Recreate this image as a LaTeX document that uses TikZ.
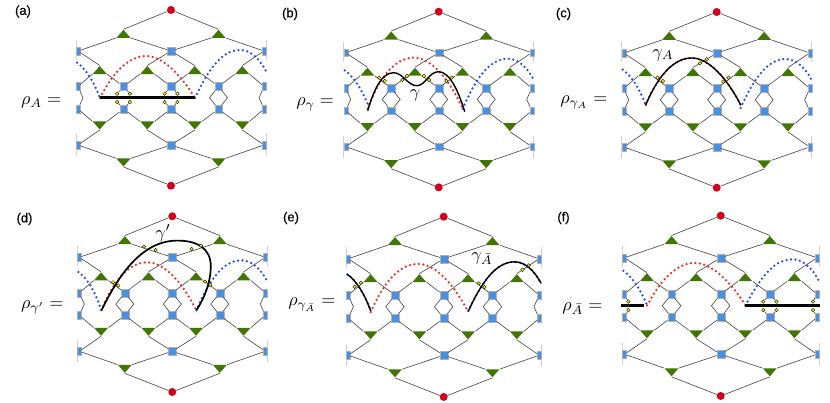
\documentclass[tikz,border=0pt]{standalone}
\usepackage{fontspec}
\newfontfamily\labfont[FakeBold=0.25]{Liberation Sans}
\usetikzlibrary{shapes.geometric}
\definecolor{sqblue}{HTML}{4A90E2}
\definecolor{trigreen}{HTML}{417505}
\definecolor{dotred}{HTML}{D0021B}
\definecolor{archblue}{HTML}{1F45FC}
\definecolor{archred}{HTML}{F0281E}
\tikzset{
  wire/.style={draw=black!70,line width=0.65pt},
  sqnode/.style={rectangle,fill=sqblue,draw=black!30,line width=0.2pt,minimum size=7.8pt,inner sep=0pt},
  halfsq/.style={rectangle,fill=sqblue,draw=black!30,line width=0.2pt,minimum width=4pt,minimum height=7.8pt,inner sep=0pt},
  upnode/.style={isosceles triangle,isosceles triangle stretches,shape border rotate=90,anchor=apex,fill=trigreen,minimum width=14pt,minimum height=8pt,inner sep=0pt},
  downnode/.style={isosceles triangle,isosceles triangle stretches,shape border rotate=-90,anchor=apex,fill=trigreen,minimum width=14pt,minimum height=8pt,inner sep=0pt},
  rednode/.style={circle,fill=dotred,minimum size=8pt,inner sep=0pt},
  yelnode/.style={circle,fill=yellow,draw=black,line width=0.35pt,minimum size=3.6pt,inner sep=0pt},
  reddots/.style={draw=archred,line width=2.5pt,line cap=round,dash pattern=on 0pt off 4.5pt},
  bluedots/.style={draw=archblue,line width=2.5pt,line cap=round,dash pattern=on 0pt off 4.5pt},
  cutline/.style={draw=black,line width=2.1pt},
  border/.style={draw=black!18,line width=0.5pt},
  mathlab/.style={anchor=base west,scale=1.8,inner sep=0pt},
  panellab/.style={anchor=center,font=\labfont\fontsize{13}{15}\selectfont,inner sep=0pt},
}
\newcommand\redpath[1]{(-71,#1) .. controls (-58,62) and (-42,46) .. (-25,46) .. controls (-10,46) and (8,62) .. (24,#1)}
\newcommand\bluepathR[2]{(24,#1) .. controls (36,62+#2) and (50,40+#2) .. (69,40+#2) .. controls (79,40+#2) and (88,48+#2) .. (95,61+#2)}
\newcommand\bluepathL[2]{(-94,52.7+#2) .. controls (-86,58+#2) and (-78,70+#2) .. (-71,#1)}
% full bubble between rows 2 and 3
\newcommand\bub[2]{%
  \coordinate (\P ml#1) at (#2-9,87.75);
  \coordinate (\P mr#1) at (#2+9,87.75);
  \draw[wire] (\P s2#1) -- (\P ml#1) -- (\P s3#1) (\P s2#1) -- (\P mr#1) -- (\P s3#1);}
\newcommand\bubL{%
  \coordinate (\P mr1) at (-88,87.75);
  \draw[wire] (\P s21) -- (\P mr1) -- (\P s31);}
\newcommand\bubR{%
  \coordinate (\P ml5) at (88,87.75);
  \draw[wire] (\P s25) -- (\P ml5) -- (\P s35);}
% cut bubble
\newcommand\cutside[3]{% index, side tag, x
  \node[yelnode] (\P yu#1#2) at (#3,83.7) {};
  \node[yelnode] (\P yd#1#2) at (#3,92) {};
  \draw[wire] (\P s2#1) -- (\P yu#1#2) (\P s3#1) -- (\P yd#1#2);}
\newcommand\cutb[2]{\cutside{#1}{l}{#2-6.4}\cutside{#1}{r}{#2+6.4}}
\newcommand\yel[3]{\node[yelnode] (\P #1) at (#2,#3) {};}
% one panel: name, cx, top y, xscale, yscale, overlay
\newcommand\panel[6]{%
\begin{scope}[shift={(#2,#3)},xscale=#4,yscale=#5]
  \def\P{#1}
  \draw[border] (-95,30) -- (-95,50) (95,30) -- (95,50) (-95,124) -- (-95,146) (95,124) -- (95,146);
  \node[rednode] (#1t) at (0,0) {};
  \node[rednode] (#1b) at (0,175.7) {};
  \node[upnode] (#1a1) at (-47.5,19.3) {};
  \node[upnode] (#1a2) at (47.5,19.3) {};
  \node[downnode] (#1e1) at (-47.5,157) {};
  \node[downnode] (#1e2) at (47.5,157) {};
  \foreach \i/\x in {1/-71.25,2/-23.75,3/23.75,4/71.25}{
    \node[upnode] (#1c\i) at (\x,55.5) {};
    \node[downnode] (#1d\i) at (\x,120) {};
  }
  \foreach \i/\x in {2/-47.5,3/0,4/47.5}{
    \node[sqnode] (#1s2\i) at (\x,76.5) {};
    \node[sqnode] (#1s3\i) at (\x,99) {};
  }
  \node[sqnode] (#1s13) at (0,41) {};
  \node[sqnode] (#1s43) at (0,135) {};
  \foreach \r/\y in {1/41,2/76.5,3/99,4/135}{
    \node[halfsq] (#1s\r1) at (-93,\y) {};
    \node[halfsq] (#1s\r5) at (93,\y) {};
  }
  \foreach \u/\v in {t/a1.apex,t/a2.apex,a1.left corner/s11,a1.right corner/s13,a2.left corner/s13,a2.right corner/s15,
    s11/c1.apex,s13/c2.apex,s13/c3.apex,s15/c4.apex,
    c1.left corner/s21,c1.right corner/s22,c2.left corner/s22,c2.right corner/s23,
    c3.left corner/s23,c3.right corner/s24,c4.left corner/s24,c4.right corner/s25,
    s31/d1.right corner,s32/d1.left corner,s32/d2.right corner,s33/d2.left corner,
    s33/d3.right corner,s34/d3.left corner,s34/d4.right corner,s35/d4.left corner,
    d1.apex/s41,d2.apex/s43,d3.apex/s43,d4.apex/s45,
    s41/e1.right corner,s43/e1.left corner,s43/e2.right corner,s45/e2.left corner,
    e1.apex/b,e2.apex/b}{
    \draw[wire] (#1\u) -- (#1\v);
  }
  #6
\end{scope}}
\begin{document}
\begin{tikzpicture}[x=1pt,y=-1pt]
\useasboundingbox (0,0) rectangle (830,403);
% (a)
\panel{a}{171}{10}{1}{1}{
  \bub{4}{47.5}\bubL\bubR
  \draw[reddots] \redpath{88};
  \draw[bluedots] \bluepathR{88}{0};
  \draw[bluedots] \bluepathL{88}{0};
  \coordinate (abarl) at (-71.25,87.5);
  \coordinate (abarr) at (23.75,87.5);
  \draw[cutline] (abarl) -- (abarr);
  \cutb{2}{-47.5}\cutb{3}{0}
}
% (b)
\panel{b}{438.7}{11.7}{1}{1}{
  \bub{2}{-47.5}\bub{3}{0}\bub{4}{47.5}\bubL\bubR
  \draw[reddots] \redpath{97};
  \draw[bluedots] \bluepathR{97}{7};
  \draw[bluedots] \bluepathL{92}{6};
  \draw[black,line width=1.4pt] (-71,99) .. controls (-64,75) and (-56,61) .. (-45,61) .. controls (-36,61) and (-31,74) .. (-22,74) .. controls (-13,74) and (-10,60) .. (0,60) .. controls (11,60) and (20,80) .. (26,100);
  \yel{y1}{-59.7}{66}\yel{y2}{-54}{69.3}\yel{y3}{-36.3}{68.3}\yel{y4}{-31.7}{64.3}
  \yel{y5}{-14.7}{64.3}\yel{y6}{-9.7}{68.3}\yel{y7}{7.7}{69.3}\yel{y8}{13}{66}
}
% (c)
\panel{c}{716.7}{12}{1}{1}{
  \bub{2}{-47.5}\bub{3}{0}\bub{4}{47.5}\bubL\bubR
  \draw[reddots] \redpath{93};
  \draw[bluedots] \bluepathR{96}{7};
  \draw[bluedots] \bluepathL{93}{5};
  \draw[black,line width=1.4pt] \redpath{93};
  \yel{y1}{-59.3}{65.7}\yel{y2}{-54}{69}\yel{y3}{-16.7}{51.3}\yel{y4}{-10}{47.3}
  \yel{y5}{6.7}{69.7}\yel{y6}{11.7}{65.7}
}
% (d)
\panel{d}{172.3}{216.3}{1}{1}{
  \bub{2}{-47.5}\bub{3}{0}\bub{4}{47.5}\bubL\bubR
  \draw[reddots] \redpath{94};
  \draw[bluedots] \bluepathR{94}{4};
  \draw[bluedots] \bluepathL{94}{3};
  \draw[black,line width=1.7pt] (-70.7,93.7) .. controls (-55,62) and (-32,24.3) .. (5,24.3) .. controls (25,24.3) and (38.5,32) .. (38.5,50) .. controls (38.5,65) and (33,80) .. (24.3,93.7);
  \yel{y1}{-59.3}{66}\yel{y2}{-54}{69.3}\yel{y3}{-28.3}{30.3}\yel{y4}{-16.7}{33.7}
  \yel{y5}{19.3}{32.7}\yel{y6}{28.7}{29.3}\yel{y7}{32.7}{65.3}\yel{y8}{38}{68.7}
}
% (e)
\panel{e}{443.7}{216.7}{1.026}{1.026}{
  \bub{2}{-47.5}\bub{3}{0}\bub{4}{47.5}\bubL\bubR
  \draw[reddots] \redpath{93};
  \draw[bluedots] \bluepathR{92}{4};
  \draw[bluedots] \bluepathL{92}{3.5};
  \draw[black,line width=1.4pt] \bluepathR{92}{4};
  \draw[black,line width=1.4pt] \bluepathL{92}{3.5};
  \yel{y1}{-86.8}{68.3}\yel{y2}{-80.7}{64.4}\yel{y3}{34.1}{65}\yel{y4}{39.7}{68.6}
  \yel{y5}{76.8}{51.7}\yel{y6}{82.9}{47.5}
}
% (f)
\panel{f}{720.7}{215.7}{1.035}{1.026}{
  \bub{2}{-47.5}\bub{3}{0}
  \draw[reddots] \redpath{87.5};
  \draw[bluedots] \bluepathR{87.5}{2.5};
  \draw[bluedots] \bluepathL{87.5}{1};
  \coordinate (fbarl) at (-96,87.5);
  \coordinate (fbarm) at (-74.5,87.5);
  \coordinate (fbarn) at (23.6,87.5);
  \coordinate (fbarr) at (95.8,87.5);
  \draw[cutline] (fbarl) -- (fbarm) (fbarn) -- (fbarr);
  \cutside{1}{r}{-89.2}\cutb{4}{47.5}\cutside{5}{l}{89.2}
}
% formula labels
\node[mathlab] (la) at (20.7,105) {$\rho_A =$};
\node[mathlab] (lb) at (296,106) {$\rho_\gamma =$};
\node[mathlab] (lc) at (560,103.5) {$\rho_{\gamma_A} =$};
\node[mathlab] (ld) at (20.7,308.5) {$\rho_{\gamma'} =$};
\node[mathlab] (le) at (288,306) {$\rho_{\gamma_{\bar A}} =$};
\node[mathlab] (lf) at (562,310.5) {$\rho_{\bar A} =$};
\node[scale=1.8,inner sep=0pt] (gb) at (415,95) {$\gamma$};
\node[scale=1.8,inner sep=0pt] (gc) at (663,55) {$\gamma_A$};
\node[scale=1.8,inner sep=0pt] (gd) at (163,233) {$\gamma'$};
\node[scale=1.8,inner sep=0pt] (ge) at (482,259) {$\gamma_{\bar A}$};
% panel letters
\node[panellab] (pa) at (23,11.5) {(a)};
\node[panellab] (pb) at (290,14) {(b)};
\node[panellab] (pc) at (563.5,14) {(c)};
\node[panellab] (pd) at (24.5,219) {(d)};
\node[panellab] (pe) at (291,218) {(e)};
\node[panellab] (pf) at (563.5,218) {(f)};
\end{tikzpicture}
\end{document}
